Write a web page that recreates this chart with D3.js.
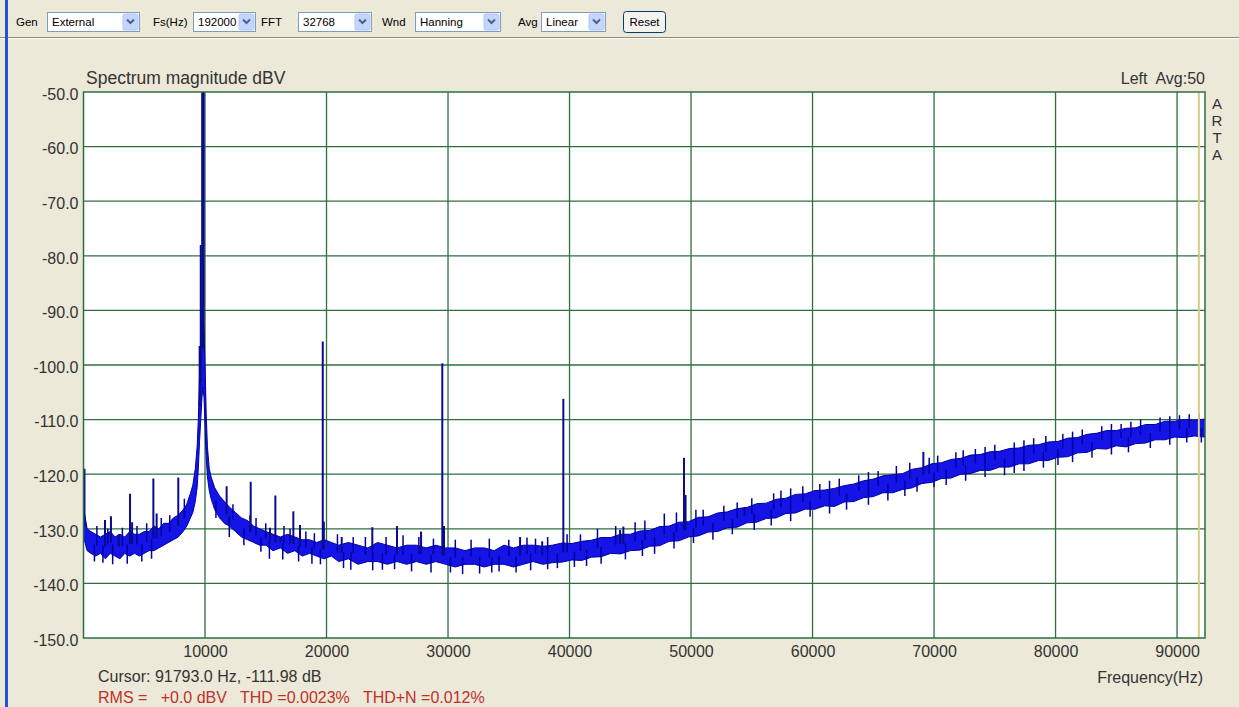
<!DOCTYPE html>
<html>
<head>
<meta charset="utf-8">
<script src="https://cdn.jsdelivr.net/npm/d3@7"></script>
<style>
  body { margin: 0; background: #ece9d8; overflow: hidden; }
  svg { display: block; font-family: 'Liberation Sans', Arial, sans-serif; }
</style>
</head>
<body>
<div id="container"></div>
<script>
// noise floor band: frequency (Hz), lower and upper edge (dBV)
const floorHz = [0, 300, 600, 1000, 1400, 1800, 2200, 2600, 3000, 3400, 3800, 4200, 4600, 5000, 5400, 5800,
  6200, 6600, 7000, 7400, 7800, 8200, 8500, 8800, 9000, 9200, 9350, 9450, 9550, 9650, 9750, 9830, 9920,
  10000, 10100, 10200, 10350, 10500, 10800, 11200, 11600, 12000, 12500, 13000, 13500, 14000, 14500, 15000,
  15600, 16200, 16800, 17400, 18000, 18600, 19200, 19800, 20400, 21000, 21800, 22600, 23400, 24200, 25000,
  25800, 26600, 27400, 28200, 29000, 29800, 30600, 31400, 32200, 33000, 33800, 34600, 35400, 36200, 37000,
  37800, 38600, 39400, 40200, 41000, 41800, 42600, 43400, 44200, 45000, 45800, 46600, 47400, 48200, 49000,
  49800, 50600, 51400, 52200, 53000, 53800, 54600, 55400, 56200, 57000, 57800, 58600, 59400, 60200, 61000,
  61800, 62600, 63400, 64200, 65000, 65800, 66600, 67400, 68200, 69000, 69800, 70600, 71400, 72200, 73000,
  73800, 74600, 75400, 76200, 77000, 77800, 78600, 79400, 80200, 81000, 81800, 82600, 83400, 84200, 85000,
  85800, 86600, 87400, 88200, 89000, 89800, 90600, 91400, 92300]
const floorLo = [-131.5, -134, -134.5, -135, -134.5, -135.5, -134.5, -135, -135.5, -134.5, -135, -134.5, -135, -134.5, -134, -134,
  -133.5, -133, -132.5, -132, -131.5, -130.5, -129.5, -128, -127, -125, -122.5, -119, -114, -110, -106, -104, -106,
  -111, -117, -120.5, -123, -124.5, -126.5, -128, -129, -129.5, -130.5, -131.5, -132, -132.5, -133, -133,
  -134, -133.5, -134.5, -134, -135, -134.5, -135, -135.5, -135, -136, -135.5, -136.5, -136, -136, -136.5,
  -136, -136.5, -136, -136.5, -136, -136.5, -137, -136.5, -136.5, -137, -136.5, -136.5, -137, -136.5, -136,
  -136.5, -136.2, -136.1, -135.7, -135.8, -135.2, -135.1, -134.5, -134.6, -134, -133.9, -133.2, -133.1, -132.3, -132.2,
  -131.5, -131.3, -130.6, -130.5, -129.8, -129.7, -128.9, -128.8, -128.1, -128, -127.2, -127.1, -126.4, -126.4, -125.8,
  -125.9, -125.1, -125, -124.3, -124.1, -123.4, -123.4, -122.8, -122.5, -121.7, -121.5, -120.8, -120.7, -120, -119.9,
  -119.3, -119.3, -118.7, -118.7, -118.1, -118.1, -117.5, -117.5, -116.9, -116.8, -116.1, -116, -115.3, -115.4, -114.8,
  -115, -114.4, -114.3, -113.7, -113.7, -113.2, -113.3, -113, -113.2]
const floorHi = [-126, -130, -130.5, -131, -131.5, -131, -130.5, -131.5, -131, -131.5, -130.5, -131, -131, -130.5, -130.5, -129.5,
  -130, -129, -129, -128, -127.5, -126.5, -125.5, -123.5, -122, -119, -115, -110, -102, -96, -92, -90, -94,
  -100, -109, -115, -119, -120.5, -122.5, -124, -125, -126, -127, -128, -128.5, -129.5, -130, -130.5,
  -131, -131.5, -131, -131.5, -132, -132, -132.5, -132, -132.5, -133, -132.5, -133, -133.5, -132.5, -133,
  -133.5, -133, -133, -133.5, -133, -133.5, -133.5, -134, -133.5, -133.5, -134, -133, -133.5, -133, -133,
  -133.2, -133, -132.6, -132.7, -132.3, -132.1, -131.6, -131.6, -131, -131, -130.4, -130.3, -129.6, -129.5, -128.8,
  -128.7, -127.9, -127.8, -127.1, -126.9, -126.3, -126.1, -125.4, -125.3, -124.6, -124.4, -123.7, -123.6, -123, -122.9,
  -122.6, -122.1, -121.8, -121.2, -120.9, -120.3, -120.1, -119.9, -119.1, -118.8, -118.1, -117.9, -117.3, -117.1, -116.5,
  -116.4, -115.9, -115.8, -115.3, -115.2, -114.7, -114.6, -114.1, -114, -113.4, -113.3, -112.7, -112.5, -112, -112,
  -111.6, -111.5, -110.9, -110.9, -110.3, -110.3, -110, -110.1, -109.9]

// discrete spectral lines: frequency (Hz) and peak (dBV); the fundamental is clipped by the plot
const spurHz = [80, 1770, 2260, 2900, 3830, 4000, 5750, 6020, 7800, 9560, 9650, 9830, 11780, 13760, 15350, 15790,
  16230, 17270, 17820, 19690, 19780, 21250, 23770, 25800, 27780, 29530, 29670, 35930, 37750, 39490, 44160,
  44430, 49420, 49550, 54400, 69120]
const spurDb = [-119, -128.4, -127.7, -131, -123.6, -128.8, -120.8, -127.2, -120.6, -96.5, -78, 0, -122.2, -121.4, -129.8, -123.9,
  -131.6, -126.8, -129.3, -95.7, -128.7, -131.5, -129.7, -129.5, -130.5, -99.7, -129.5, -131.5, -132.3, -106.2, -130.2,
  -129.6, -117, -123.8, -126, -115.9]

// small noise excursions above and below the band
const upHz = [1100, 2000, 3200, 4400, 5200, 6400, 7100, 8300, 12300, 13700, 14200, 15000, 16500, 17000, 18300, 19000,
  20900, 22200, 23200, 24900, 26300, 27600, 28800, 30600, 31900, 33400, 35000, 36500, 37200, 38200, 39800, 40900,
  42300, 43800, 45400, 46200, 47800, 48800, 50400, 51000, 52700, 53800, 55000, 56800, 57400, 58200, 59200, 60600,
  61400, 62200, 63800, 64600, 65400, 66900, 68000, 69600, 70300, 71800, 72400, 73400, 74200, 75000, 76600, 77400,
  78200, 79200, 80600, 81400, 82200, 83800, 84600, 85400, 86200, 87000, 88600, 89400, 90200, 91000, 91800]
const upDb = [-129.5, -130, -129.8, -129.5, -129, -128, -127.5, -124.5, -125.5, -127.5, -128, -129, -129.5, -130, -130.5, -130.8,
  -131, -131.5, -131.5, -131.5, -131.2, -131.5, -131.8, -132, -132, -131.8, -132, -131.6, -131.8, -131.5, -131, -131,
  -130, -129.5, -128.8, -128.5, -127.2, -127, -126.5, -126.5, -125.8, -125.2, -124.4, -123.5, -123, -122.6, -122.2, -121.8,
  -121.2, -120.8, -120.2, -119.6, -119.4, -118.5, -117.9, -117, -116.6, -116, -115.6, -115.4, -115, -114.6, -114.2, -113.8,
  -113.4, -113, -112.6, -112.2, -111.8, -111.2, -110.8, -110.8, -110.4, -110, -109.6, -109.4, -109.2, -109, -108.8]
const downHz = [900, 1600, 2400, 3600, 4800, 5600, 10900, 12000, 13200, 14600, 15300, 16400, 17700, 18800, 19500, 21400,
  22000, 23800, 24600, 25600, 27000, 28600, 30200, 31200, 32600, 33600, 34200, 35600, 36800, 38200, 39000, 40400,
  41400, 42600, 44600, 46000, 47000, 48600, 50200, 51800, 53400, 55200, 56600, 58200, 59800, 61400, 62800, 64600,
  66200, 67600, 68600, 70000, 71000, 72600, 74200, 75800, 76600, 77400, 79000, 80200, 81400, 83000, 84600, 86000,
  87800, 89400, 90800, 92000]
const downDb = [-136, -136.2, -136.5, -136.4, -136, -135.5, -128, -131.5, -133, -134.2, -135.5, -135.6, -136, -136.4, -136.5, -137.2,
  -137.5, -137.6, -137.5, -137.4, -137.8, -138, -138, -138.3, -138.2, -138, -137.8, -138, -137.6, -137.4, -137.2, -137,
  -136.8, -136.4, -135.6, -135, -134.6, -133.6, -132.6, -132, -131, -130.2, -129.4, -128.6, -127.8, -127.2, -126.5, -125.6,
  -124.8, -124, -123.2, -122.4, -122, -121.2, -120.5, -120.2, -119.8, -119.4, -118.8, -118.3, -117.8, -117, -116.4, -116,
  -115.2, -114.6, -114.2, -114.2]

const xTicks = [10000, 20000, 30000, 40000, 50000, 60000, 70000, 80000, 90000]
const yTicks = [-50, -60, -70, -80, -90, -100, -110, -120, -130, -140, -150]
const cursorHz = 91793

const toolbar = [
  { label: 'Gen', lx: 16, x: 47, w: 92, value: 'External' },
  { label: 'Fs(Hz)', lx: 153, x: 193, w: 62, value: '192000' },
  { label: 'FFT', lx: 261, x: 298, w: 73, value: '32768' },
  { label: 'Wnd', lx: 382, x: 415, w: 85, value: 'Hanning' },
  { label: 'Avg', lx: 518, x: 541, w: 64, value: 'Linear' }
]

drawIt()

function drawIt() {
  const w = 1239
  const h = 707
  const left = 83.5
  const right = 1205
  const top = 92
  const bottom = 638
  const grid = '#2f6e40'
  const textCol = '#333'

  const x = d3.scaleLinear().domain([0, 92300]).range([left, right])
  const y = d3.scaleLinear().domain([-150, -50]).range([bottom, top])

  const svg = d3.select('div#container')
    .append('svg')
    .attr('width', w)
    .attr('height', h)

  svg.append('rect').attr('width', w).attr('height', h).attr('fill', '#ece9d8')

  // toolbar
  const tb = svg.append('g').attr('font-size', '11.5px').attr('fill', '#000')
  toolbar.forEach(c => {
    tb.append('text').attr('x', c.lx).attr('y', 26).text(c.label)
    tb.append('rect').attr('x', c.x + 0.5).attr('y', 12.5).attr('width', c.w).attr('height', 19)
      .attr('fill', '#fff').attr('stroke', '#7f9db9')
    tb.append('text').attr('x', c.x + 5).attr('y', 26).text(c.value)
    const bx = c.x + c.w - 16
    tb.append('rect').attr('x', bx).attr('y', 14).attr('width', 15).attr('height', 16).attr('rx', 1.5)
      .attr('fill', '#c3d5fd').attr('stroke', '#b4c8f6')
    tb.append('path').attr('d', `M${bx + 4},${19.5} L${bx + 7.5},${23} L${bx + 11},${19.5}`)
      .attr('fill', 'none').attr('stroke', '#4d6185').attr('stroke-width', 2)
  })
  tb.append('rect').attr('x', 623.5).attr('y', 11.5).attr('width', 42).attr('height', 21).attr('rx', 3)
    .attr('fill', '#f4f3ee').attr('stroke', '#003c74')
  tb.append('text').attr('x', 644.5).attr('y', 26).attr('text-anchor', 'middle').text('Reset')
  svg.append('line').attr('x1', 0).attr('x2', w).attr('y1', 37.5).attr('y2', 37.5).attr('stroke', '#8c8a7f')
  svg.append('line').attr('x1', 0).attr('x2', w).attr('y1', 38.5).attr('y2', 38.5).attr('stroke', '#fff')
  svg.append('rect').attr('x', 5).attr('y', 0).attr('width', 3).attr('height', h).attr('fill', '#2254d6')

  // plot area
  svg.append('rect').attr('x', left).attr('y', top).attr('width', right - left).attr('height', bottom - top)
    .attr('fill', '#fff')

  svg.append('clipPath').attr('id', 'plotclip')
    .append('rect').attr('x', left).attr('y', top).attr('width', right - left).attr('height', bottom - top)

  svg.append('g').selectAll('line').data(xTicks).enter().append('line')
    .attr('x1', d => x(d)).attr('x2', d => x(d)).attr('y1', top).attr('y2', bottom)
    .attr('stroke', grid).attr('stroke-width', 1.3)
  svg.append('g').selectAll('line').data(yTicks.slice(1, -1)).enter().append('line')
    .attr('x1', left).attr('x2', right).attr('y1', d => y(d)).attr('y2', d => y(d))
    .attr('stroke', grid).attr('stroke-width', 1.3)

  const plot = svg.append('g').attr('clip-path', 'url(#plotclip)')

  const bandAt = hz => {
    const i = Math.max(1, Math.min(floorHz.length - 1, d3.bisectLeft(floorHz, hz)))
    const t = (hz - floorHz[i - 1]) / (floorHz[i] - floorHz[i - 1])
    const lo = floorLo[i - 1] + t * (floorLo[i] - floorLo[i - 1])
    const hi = floorHi[i - 1] + t * (floorHi[i] - floorHi[i - 1])
    return (lo + hi) / 2
  }

  const area = d3.area()
    .x(i => x(floorHz[i]))
    .y0(i => y(floorLo[i]))
    .y1(i => y(floorHi[i]))

  plot.append('path')
    .datum(d3.range(floorHz.length))
    .attr('d', area)
    .attr('fill', '#1414e6')
    .attr('stroke', '#0000a0')
    .attr('stroke-width', 1)

  plot.append('g').selectAll('line').data(d3.range(upHz.length)).enter().append('line')
    .attr('x1', i => x(upHz[i])).attr('x2', i => x(upHz[i]))
    .attr('y1', i => y(bandAt(upHz[i]))).attr('y2', i => y(upDb[i]))
    .attr('stroke', '#0000a0').attr('stroke-width', 1.5)
  plot.append('g').selectAll('line').data(d3.range(downHz.length)).enter().append('line')
    .attr('x1', i => x(downHz[i])).attr('x2', i => x(downHz[i]))
    .attr('y1', i => y(bandAt(downHz[i]))).attr('y2', i => y(downDb[i]))
    .attr('stroke', '#0000a0').attr('stroke-width', 1.5)

  plot.append('g').selectAll('line').data(d3.range(spurHz.length)).enter().append('line')
    .attr('x1', i => x(spurHz[i])).attr('x2', i => x(spurHz[i]))
    .attr('y1', i => y(bandAt(spurHz[i])))
    .attr('y2', i => y(spurDb[i]))
    .attr('stroke', '#0a0a8c')
    .attr('stroke-width', i => spurDb[i] > -60 ? 3.5 : 2)

  // cursor
  svg.append('line').attr('x1', x(cursorHz)).attr('x2', x(cursorHz)).attr('y1', top).attr('y2', bottom)
    .attr('stroke', '#d6cc8a').attr('stroke-width', 2)

  svg.append('rect').attr('x', left).attr('y', top).attr('width', right - left).attr('height', bottom - top)
    .attr('fill', 'none').attr('stroke', grid).attr('stroke-width', 1.5)

  // axes
  const yAxis = d3.axisLeft(y).tickValues(yTicks).tickSize(0).tickPadding(5).tickFormat(d => d.toFixed(1))
  svg.append('g').attr('transform', 'translate(' + left + ',0)').call(yAxis)
    .call(g => g.select('.domain').remove())
    .selectAll('text').attr('font-size', '16px').attr('fill', textCol).attr('dy', '0.45em')

  const xAxis = d3.axisBottom(x).tickValues(xTicks).tickSize(0).tickPadding(8).tickFormat(d => d)
  svg.append('g').attr('transform', 'translate(0,' + bottom + ')').call(xAxis)
    .call(g => g.select('.domain').remove())
    .selectAll('text').attr('font-size', '16px').attr('fill', textCol)

  svg.selectAll('.tick text').attr('font-family', "'Liberation Sans', Arial, sans-serif")

  // texts
  svg.append('text').attr('x', 86).attr('y', 84).attr('font-size', '17.5px').attr('fill', textCol)
    .text('Spectrum magnitude dBV')
  svg.append('text').attr('x', 1205).attr('y', 84).attr('font-size', '16px').attr('fill', textCol)
    .attr('text-anchor', 'end').attr('xml:space', 'preserve').text('Left  Avg:50')
  svg.append('text').attr('x', 1217).attr('y', 95).attr('font-size', '15px').attr('fill', textCol)
    .style('writing-mode', 'vertical-rl').style('text-orientation', 'upright')
    .text('ARTA')
  svg.append('text').attr('x', 98).attr('y', 682).attr('font-size', '16px').attr('fill', textCol)
    .text('Cursor: 91793.0 Hz, -111.98 dB')
  svg.append('text').attr('x', 1203).attr('y', 683).attr('font-size', '16px').attr('fill', textCol)
    .attr('text-anchor', 'end').text('Frequency(Hz)')
  svg.append('text').attr('x', 98).attr('y', 703).attr('font-size', '16px').attr('fill', '#c0302c')
    .attr('xml:space', 'preserve').text('RMS =   +0.0 dBV   THD =0.0023%   THD+N =0.012%')
}
</script>
</body>
</html>
